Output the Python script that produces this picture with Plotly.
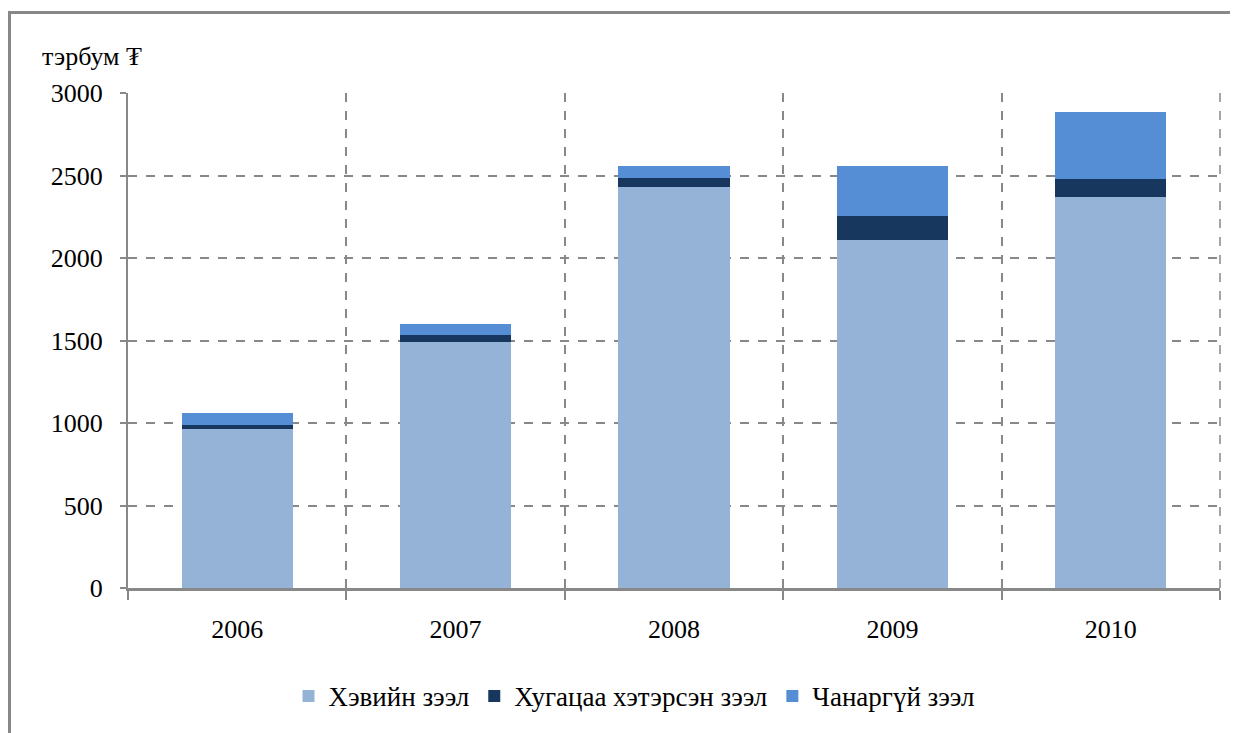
import plotly.graph_objects as go

years = ["2006", "2007", "2008", "2009", "2010"]
normal = [964, 1488, 2428, 2108, 2367]
overdue = [24, 48, 54, 145, 109]
nonperf = [72, 66, 78, 307, 409]
names = ["Хэвийн зээл", "Хугацаа хэтэрсэн зээл", "Чанаргүй зээл"]
colors = ["#95B3D7", "#17375E", "#558ED5"]
ytitle = "тэрбум ₮"

FONT = "Liberation Serif, DejaVu Serif, Times New Roman, serif"
OFF = 8  # page body margin

fig = go.Figure()
for vals, nm, c in zip([normal, overdue, nonperf], names, colors):
    fig.add_trace(go.Bar(x=years, y=vals, name=nm, marker=dict(color=c, line=dict(width=0))))

W, H = 1238 - OFF, 733 - OFF
L, R, T, B = 128 - OFF, 1220 - OFF, 93 - OFF, 591 - OFF
pw, ph = R - L, B - T

def px(x):
    return (x - OFF - L) / pw

def py(y):
    return (B - (y - OFF)) / ph

fig.update_layout(
    width=W, height=H,
    barmode="stack", bargap=0.49,
    plot_bgcolor="white", paper_bgcolor="white",
    margin=dict(l=L, r=W - R, t=T, b=H - B, pad=0),
    font=dict(family=FONT, size=26, color="black"),
    showlegend=True,
    legend=dict(orientation="h", x=px(634), xanchor="center", y=py(700), yanchor="middle",
                font=dict(family=FONT, size=27), traceorder="normal"),
    xaxis=dict(type="category", tickson="boundaries", showgrid=True, gridcolor="#888888",
               griddash="dash", gridwidth=1.5, showline=True, linecolor="#888888", linewidth=3,
               ticks="outside", ticklen=9, tickcolor="#888888", tickwidth=2,
               tickfont=dict(family=FONT, size=26), ticklabelstandoff=16),
    yaxis=dict(range=[0, 3000], dtick=500, showgrid=True, gridcolor="#888888", griddash="dash",
               gridwidth=1.5, zeroline=False, showline=True, linecolor="#888888", linewidth=2,
               ticks="outside", ticklen=6, tickcolor="#888888", tickwidth=2,
               tickfont=dict(family=FONT, size=26), ticklabelstandoff=12),
    shapes=[
        dict(type="rect", xref="paper", yref="paper", x0=px(9.5), x1=px(1260), y0=py(760), y1=py(12),
             line=dict(color="#888888", width=3), fillcolor="rgba(0,0,0,0)", layer="above"),
        dict(type="line", xref="paper", yref="paper", x0=1, x1=1, y0=0, y1=1,
             line=dict(color="#888888", width=1.5, dash="dash")),
    ],
    annotations=[dict(text=ytitle, xref="paper", yref="paper", x=px(40), y=py(56),
                      xanchor="left", yanchor="middle", showarrow=False,
                      font=dict(family=FONT, size=26))],
)

fig.write_html("out.html")
